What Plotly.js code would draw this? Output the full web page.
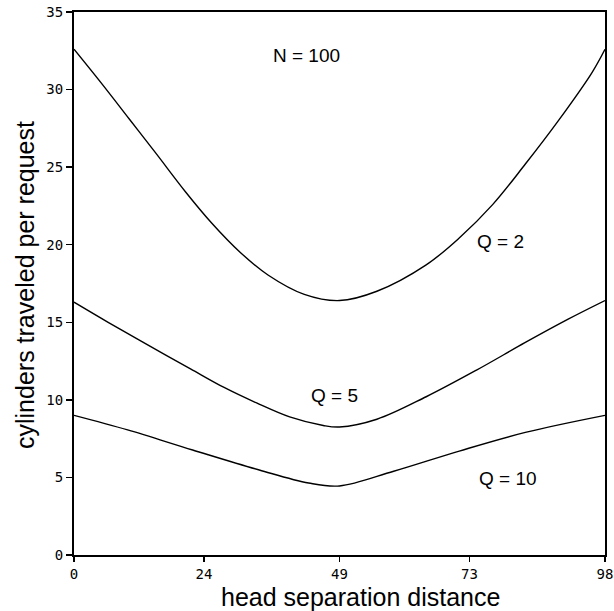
<!DOCTYPE html>
<html>
<head>
<meta charset="utf-8">
<script src="https://cdn.plot.ly/plotly-3.0.1.min.js"></script>
<style>html,body{margin:0;padding:0;background:#fff;}#chart{width:614px;height:611px;}</style>
</head>
<body>
<div id="chart"></div>
<script>
// Data
const xQ2 = [0, 5.3, 10.2, 15.1, 20.6, 25.4, 30.7, 35.8, 42.5, 49, 55.9, 65, 71, 77.3, 83.3, 89.4, 95.6, 98];
const yQ2 = [32.6, 30.3, 28.1, 25.9, 23.4, 21.4, 19.5, 18.05, 16.8, 16.4, 17.0, 18.7, 20.4, 22.6, 25.2, 28.0, 31.1, 32.6];

const xQ5 = [0, 6.3, 12.3, 21.5, 27.7, 33.7, 39.8, 46, 49, 55.9, 65, 74.2, 83.3, 91.2, 98];
const yQ5 = [16.3, 15.0, 13.8, 12.0, 10.8, 9.8, 8.9, 8.35, 8.25, 8.75, 10.2, 11.9, 13.7, 15.2, 16.4];

const xQ10 = [0, 9.9, 21.9, 34.2, 43.3, 49, 59, 71.1, 83.3, 98];
const yQ10 = [9.0, 8.06, 6.77, 5.48, 4.64, 4.45, 5.4, 6.7, 7.9, 9.0];

const xTicks = [0, 24, 49, 73, 98];
const yTicks = [0, 5, 10, 15, 20, 25, 30, 35];

const labels = ["N = 100", "Q = 2", "Q = 5", "Q = 10"];
const labelX = [42.9, 78.8, 48.1, 80.1];
const labelY = [32.2, 20.2, 10.3, 4.96];

const xTitle = 'head separation distance';
const yTitle = 'cylinders traveled per request';

const lineStyle = {color: '#000', width: 1.4, shape: 'spline', smoothing: 1};
const traces = [
  {x: xQ2, y: yQ2, mode: 'lines', line: lineStyle, name: 'Q=2'},
  {x: xQ5, y: yQ5, mode: 'lines', line: lineStyle, name: 'Q=5'},
  {x: xQ10, y: yQ10, mode: 'lines', line: lineStyle, name: 'Q=10'}
];

const L = 74, R = 9, T = 12, B = 56, W = 614, H = 611;

const textFont = {family: 'Liberation Sans, Arial, sans-serif', size: 19, color: '#000'};
const annotations = labels.map((t, i) => ({
  x: labelX[i], y: labelY[i], xref: 'x', yref: 'y', text: t, showarrow: false, font: textFont
}));
const titleFont = {family: 'Liberation Sans, Arial, sans-serif', size: 25, color: '#000'};
annotations.push({
  x: 360, y: 597, xref: 'paper', yref: 'paper', text: xTitle, showarrow: false, font: titleFont,
  xanchor: 'center', yanchor: 'middle'
});
annotations.push({
  x: 25, y: 285, xref: 'paper', yref: 'paper', text: yTitle, showarrow: false, font: titleFont,
  textangle: -90, xanchor: 'center', yanchor: 'middle'
});
// convert pixel positions of the titles to paper fractions
annotations.forEach(a => {
  if (a.xref === 'paper') {
    a.x = (a.x - L) / (W - L - R);
    a.y = (H - B - a.y) / (H - T - B);
  }
});

const tickFont = {family: 'DejaVu Sans Mono, monospace', size: 14, color: '#000'};
const layout = {
  width: W, height: H,
  margin: {l: L, r: R, t: T, b: B},
  paper_bgcolor: '#fff', plot_bgcolor: '#fff',
  showlegend: false,
  xaxis: {
    range: [0, 98], tickvals: xTicks, ticktext: xTicks.map(String),
    ticks: 'outside', ticklen: 5, tickwidth: 1.5, tickcolor: '#000',
    showline: true, linecolor: '#000', linewidth: 2, mirror: true,
    showgrid: false, zeroline: false, tickfont: tickFont, ticklabeloverflow: 'allow'
  },
  yaxis: {
    range: [0, 35], tickvals: yTicks, ticktext: yTicks.map(String),
    ticks: 'outside', ticklen: 6, tickwidth: 1.5, tickcolor: '#000',
    showline: true, linecolor: '#000', linewidth: 2, mirror: true,
    showgrid: false, zeroline: false, tickfont: tickFont, ticklabeloverflow: 'allow'
  },
  annotations: annotations
};

Plotly.newPlot('chart', traces, layout, {staticPlot: true, displayModeBar: false});
</script>
</body>
</html>
